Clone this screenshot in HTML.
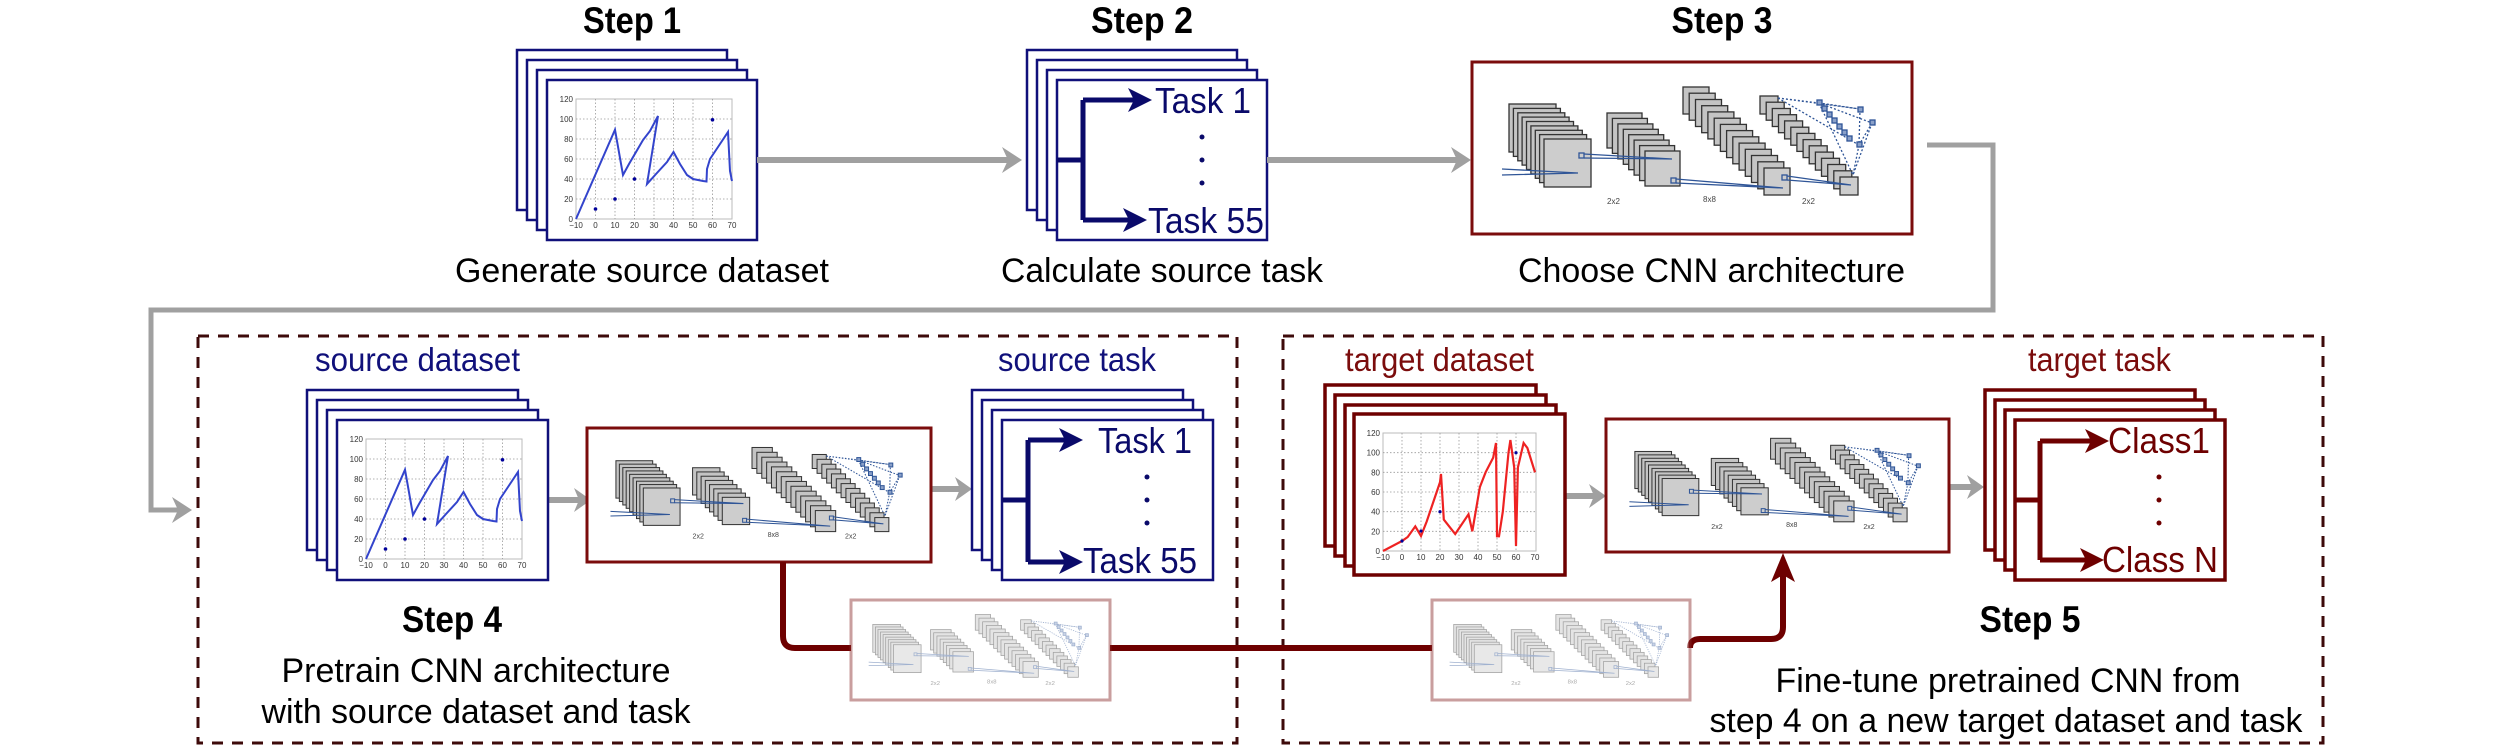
<!DOCTYPE html>
<html><head><meta charset="utf-8"><style>
html,body{margin:0;padding:0;background:#fff;}
svg{display:block;}
text{font-family:"Liberation Sans",Arial,sans-serif;}
</style></head><body>
<svg width="2495" height="748" viewBox="0 0 2495 748" xmlns="http://www.w3.org/2000/svg">
<defs>
<g id="cnn">
 <g fill="#c4c4c4" stroke="#333" stroke-width="1.3">
  <rect x="37" y="42" width="47" height="48"/><rect x="41.4" y="46.4" width="47" height="48"/><rect x="45.8" y="50.8" width="47" height="48"/><rect x="50.1" y="55.1" width="47" height="48"/><rect x="54.5" y="59.5" width="47" height="48"/><rect x="58.9" y="63.9" width="47" height="48"/><rect x="63.3" y="68.3" width="47" height="48"/><rect x="67.6" y="72.6" width="47" height="48"/><rect x="72" y="77" width="47" height="48" fill="#cdcdcd"/>
  <rect x="135" y="51" width="35" height="35"/><rect x="140.4" y="56.4" width="35" height="35"/><rect x="145.9" y="61.9" width="35" height="35"/><rect x="151.3" y="67.3" width="35" height="35"/><rect x="156.7" y="72.7" width="35" height="35"/><rect x="162.1" y="78.1" width="35" height="35"/><rect x="167.6" y="83.6" width="35" height="35"/><rect x="173" y="89" width="35" height="35" fill="#cdcdcd"/>
  <rect x="211" y="25" width="26" height="27"/><rect x="217.2" y="31.2" width="26" height="27"/><rect x="223.5" y="37.5" width="26" height="27"/><rect x="229.7" y="43.7" width="26" height="27"/><rect x="235.9" y="49.9" width="26" height="27"/><rect x="242.2" y="56.2" width="26" height="27"/><rect x="248.4" y="62.4" width="26" height="27"/><rect x="254.6" y="68.6" width="26" height="27"/><rect x="260.8" y="74.8" width="26" height="27"/><rect x="267.1" y="81.1" width="26" height="27"/><rect x="273.3" y="87.3" width="26" height="27"/><rect x="279.5" y="93.5" width="26" height="27"/><rect x="285.8" y="99.8" width="26" height="27"/><rect x="292" y="106" width="26" height="27" fill="#cdcdcd"/>
  <rect x="288" y="34" width="18" height="18"/><rect x="294.2" y="40.2" width="18" height="18"/><rect x="300.3" y="46.5" width="18" height="18"/><rect x="306.5" y="52.7" width="18" height="18"/><rect x="312.6" y="58.9" width="18" height="18"/><rect x="318.8" y="65.2" width="18" height="18"/><rect x="324.9" y="71.4" width="18" height="18"/><rect x="331.1" y="77.6" width="18" height="18"/><rect x="337.2" y="83.8" width="18" height="18"/><rect x="343.4" y="90.1" width="18" height="18"/><rect x="349.5" y="96.3" width="18" height="18"/><rect x="355.7" y="102.5" width="18" height="18"/><rect x="361.8" y="108.8" width="18" height="18"/><rect x="368" y="115" width="18" height="18" fill="#cdcdcd"/>
 </g>
 <g stroke="#2f5597" stroke-width="1.3" fill="none">
  <path d="M30,107 L106,111 M30,113 L106,111"/>
  <rect x="107" y="91" width="5" height="5"/>
  <path d="M112,92 L200,97 M112,96 L200,97"/>
  <rect x="199" y="116" width="5" height="5"/>
  <path d="M204,117 L311,126 M204,121 L311,126"/>
  <rect x="310" y="113" width="5" height="5"/>
  <path d="M315,114 L379,123 M315,118 L379,123"/>
  <g stroke-dasharray="2 2">
   <path d="M306,36 L347,41 M306,36 L388,47 M306,36 L387,83 M347,41 L400,61 M347,41 L388,47 M388,47 L387,83 M400,61 L387,83 M387,83 L381,113 M400,61 L381,113 M347,41 L381,113"/>
  </g>
  <g fill="#8aa0c8">
   <rect x="345" y="38" width="5" height="5"/><rect x="350" y="44" width="5" height="5"/><rect x="355" y="50" width="5" height="5"/><rect x="360" y="56" width="5" height="5"/><rect x="365" y="62" width="5" height="5"/><rect x="370" y="68" width="5" height="5"/><rect x="375" y="74" width="5" height="5"/><rect x="385" y="80" width="5" height="5"/><rect x="386" y="45" width="5" height="5"/><rect x="398" y="58" width="5" height="5"/>
  </g>
 </g>
</g>
<g id="bchart">
 <rect x="29" y="19" width="156" height="120" fill="none" stroke="#bbb" stroke-width="1"/>
 <g stroke="#999" stroke-width="0.8" stroke-dasharray="1.5 2">
  <path d="M48.5,19V139M68,19V139M87.5,19V139M107,19V139M126.5,19V139M146,19V139M165.5,19V139"/>
  <path d="M29,39H185M29,59H185M29,79H185M29,99H185M29,119H185"/>
 </g>
 <polyline fill="none" stroke="#3344cc" stroke-width="2" points="29,139 68,49.7 76,95 82,84 96,60 103,51 111,36 100,104 109,94 120,82 126.5,72 133,84 140,95 146,99 156,101 159.5,101.5 160,89 163,79 173,64 181,52 183,91 185,101"/>
 <g fill="#000099"><circle cx="48.5" cy="129" r="1.8"/><circle cx="68" cy="119" r="1.8"/><circle cx="87.5" cy="99" r="1.8"/><circle cx="165.5" cy="39.8" r="1.8"/></g>
</g>
<g id="rchart">
 <rect x="29" y="19" width="153" height="118" fill="none" stroke="#bbb" stroke-width="1"/>
 <g stroke="#999" stroke-width="0.8" stroke-dasharray="1.5 2">
  <path d="M48,19V137M67,19V137M86,19V137M105,19V137M124,19V137M143,19V137M162,19V137"/>
  <path d="M29,38.7H182M29,58.3H182M29,78H182M29,97.7H182M29,117.3H182"/>
 </g>
 <polyline fill="none" stroke="#ee2222" stroke-width="2.2" points="29,137 48,127 53.7,123 61.3,112.4 67,122 72.7,107.5 86,68.2 87,60 89.8,105.6 101.2,120 114.5,100.3 118.3,117.3 125.9,73 131.6,58.3 139.2,43.6 142,29 143,122.3 145,122.3 148.8,97.7 154.5,38.7 156.4,26 160.2,53.4 162,132 163.9,53.4 169.6,29 173.4,34 181,58.3"/>
 <g fill="#000099"><circle cx="48" cy="127" r="1.6"/><circle cx="67" cy="117" r="1.6"/><circle cx="86" cy="97.7" r="1.6"/><circle cx="162" cy="38.7" r="1.6"/></g>
</g>
</defs>

<g font-weight="bold" font-size="37" text-anchor="middle" fill="#000">
 <text x="632" y="33" textLength="98" lengthAdjust="spacingAndGlyphs">Step 1</text>
 <text x="1142" y="33" textLength="102" lengthAdjust="spacingAndGlyphs">Step 2</text>
 <text x="1722" y="33" textLength="101" lengthAdjust="spacingAndGlyphs">Step 3</text>
 <text x="452" y="632" textLength="100" lengthAdjust="spacingAndGlyphs">Step 4</text>
 <text x="2030" y="632" textLength="101" lengthAdjust="spacingAndGlyphs">Step 5</text>
</g>

<g fill="#fff" stroke="#10107a" stroke-width="2.5">
 <rect x="517" y="50" width="210" height="160"/><rect x="527" y="60" width="210" height="160"/><rect x="537" y="70" width="210" height="160"/><rect x="547" y="80" width="210" height="160"/>
</g>
<g transform="translate(547,80)">
 <use href="#bchart"/>
 <g font-size="8" fill="#333" text-anchor="end">
  <text x="26" y="22">120</text><text x="26" y="42">100</text><text x="26" y="62">80</text><text x="26" y="82">60</text><text x="26" y="102">40</text><text x="26" y="122">20</text><text x="26" y="142">0</text>
 </g>
 <g font-size="8" fill="#333" text-anchor="middle">
  <text x="29" y="148">−10</text><text x="48.5" y="148">0</text><text x="68" y="148">10</text><text x="87.5" y="148">20</text><text x="107" y="148">30</text><text x="126.5" y="148">40</text><text x="146" y="148">50</text><text x="165.5" y="148">60</text><text x="185" y="148">70</text>
 </g>
</g>

<g fill="#fff" stroke="#10107a" stroke-width="2.5">
 <rect x="1027" y="50" width="210" height="160"/><rect x="1037" y="60" width="210" height="160"/><rect x="1047" y="70" width="210" height="160"/><rect x="1057" y="80" width="210" height="160"/>
</g>
<g stroke="#0a0a6a" stroke-width="5" fill="none">
 <path d="M1057,160H1083M1083,100V220M1083,100H1135M1083,220H1130"/>
</g>
<g fill="#0a0a6a">
 <polygon points="1152,100 1128,88 1134,100 1128,112"/>
 <polygon points="1147,220 1123,208 1129,220 1123,232"/>
 <circle cx="1202" cy="137" r="2.5"/><circle cx="1202" cy="160" r="2.5"/><circle cx="1202" cy="183" r="2.5"/>
</g>
<g font-size="36" fill="#0a0a6a">
 <text x="1155" y="113" textLength="96" lengthAdjust="spacingAndGlyphs">Task 1</text>
 <text x="1148" y="233" textLength="116" lengthAdjust="spacingAndGlyphs">Task 55</text>
</g>

<rect x="1472" y="62" width="440" height="172" fill="#fff" stroke="#7b0c0c" stroke-width="3"/>
<g transform="translate(1472,62)">
 <use href="#cnn"/>
 <g font-size="8" fill="#444"><text x="135" y="142">2x2</text><text x="231" y="140">8x8</text><text x="330" y="142">2x2</text></g>
</g>

<g font-size="34" fill="#000">
 <text x="455" y="282" textLength="374" lengthAdjust="spacingAndGlyphs">Generate source dataset</text>
 <text x="1001" y="282" textLength="322" lengthAdjust="spacingAndGlyphs">Calculate source task</text>
 <text x="1518" y="282" textLength="387" lengthAdjust="spacingAndGlyphs">Choose CNN architecture</text>
</g>

<g stroke="#a0a0a0" stroke-width="6" fill="none">
 <path d="M757,160H1010"/>
 <path d="M1267,160H1460"/>
 <path d="M1927,145H1993V310H151V510H180" stroke-width="5"/>
 <path d="M548,500H580"/>
 <path d="M931,489H961"/>
 <path d="M1565,496H1595"/>
 <path d="M1949,487H1973"/>
</g>
<g fill="#a0a0a0">
 <polygon points="1022,160 1002,147 1008,160 1002,173"/>
 <polygon points="1471,160 1451,147 1457,160 1451,173"/>
 <polygon points="192,510 172,497 178,510 172,523"/>
 <polygon points="591,500 574,488 579,500 574,512"/>
 <polygon points="972,489 955,477 960,489 955,501"/>
 <polygon points="1606,496 1589,484 1594,496 1589,508"/>
 <polygon points="1984,487 1967,475 1972,487 1967,499"/>
</g>

<g fill="none" stroke="#3d0a0a" stroke-width="3" stroke-dasharray="11 9">
 <rect x="198" y="336" width="1039" height="407"/>
 <rect x="1283" y="336" width="1040" height="407"/>
</g>

<g font-size="33">
 <text x="315" y="371" fill="#10107a" textLength="205" lengthAdjust="spacingAndGlyphs">source dataset</text>
 <text x="998" y="371" fill="#10107a" textLength="158" lengthAdjust="spacingAndGlyphs">source task</text>
 <text x="1345" y="371" fill="#7b0c0c" textLength="189" lengthAdjust="spacingAndGlyphs">target dataset</text>
 <text x="2028" y="371" fill="#7b0c0c" textLength="143" lengthAdjust="spacingAndGlyphs">target task</text>
</g>

<g fill="#fff" stroke="#10107a" stroke-width="2.5">
 <rect x="307" y="390" width="211" height="160"/><rect x="317" y="400" width="211" height="160"/><rect x="327" y="410" width="211" height="160"/><rect x="337" y="420" width="211" height="160"/>
</g>
<g transform="translate(337,420)">
 <use href="#bchart"/>
 <g font-size="8" fill="#333" text-anchor="end">
  <text x="26" y="22">120</text><text x="26" y="42">100</text><text x="26" y="62">80</text><text x="26" y="82">60</text><text x="26" y="102">40</text><text x="26" y="122">20</text><text x="26" y="142">0</text>
 </g>
 <g font-size="8" fill="#333" text-anchor="middle">
  <text x="29" y="148">−10</text><text x="48.5" y="148">0</text><text x="68" y="148">10</text><text x="87.5" y="148">20</text><text x="107" y="148">30</text><text x="126.5" y="148">40</text><text x="146" y="148">50</text><text x="165.5" y="148">60</text><text x="185" y="148">70</text>
 </g>
</g>

<rect x="587" y="428" width="344" height="134" fill="#fff" stroke="#7b0c0c" stroke-width="3"/>
<g transform="translate(587,428) scale(0.782,0.779)">
 <use href="#cnn"/>
 <g font-size="9" fill="#444"><text x="135" y="142">2x2</text><text x="231" y="140">8x8</text><text x="330" y="142">2x2</text></g>
</g>

<g fill="#fff" stroke="#10107a" stroke-width="2.5">
 <rect x="972" y="390" width="211" height="160"/><rect x="982" y="400" width="211" height="160"/><rect x="992" y="410" width="211" height="160"/><rect x="1002" y="420" width="211" height="160"/>
</g>
<g stroke="#0a0a6a" stroke-width="5" fill="none">
 <path d="M1002,500H1028M1028,440V562M1028,440H1066M1028,562H1066"/>
</g>
<g fill="#0a0a6a">
 <polygon points="1083,440 1059,428 1065,440 1059,452"/>
 <polygon points="1083,562 1059,550 1065,562 1059,574"/>
 <circle cx="1147" cy="477" r="2.5"/><circle cx="1147" cy="500" r="2.5"/><circle cx="1147" cy="523" r="2.5"/>
</g>
<g font-size="36" fill="#0a0a6a">
 <text x="1098" y="453" textLength="94" lengthAdjust="spacingAndGlyphs">Task 1</text>
 <text x="1083" y="573" textLength="114" lengthAdjust="spacingAndGlyphs">Task 55</text>
</g>

<g font-size="34" fill="#000" text-anchor="middle">
 <text x="476" y="682" textLength="389" lengthAdjust="spacingAndGlyphs">Pretrain CNN architecture</text>
 <text x="476" y="723" textLength="429" lengthAdjust="spacingAndGlyphs">with source dataset and task</text>
 <text x="2008" y="692" textLength="465" lengthAdjust="spacingAndGlyphs">Fine-tune pretrained CNN from</text>
 <text x="2006" y="732" textLength="593" lengthAdjust="spacingAndGlyphs">step 4 on a new target dataset and task</text>
</g>

<g stroke="#6e0000" stroke-width="6" fill="none">
 <path d="M783,562V636Q783,648 795,648H851"/>
 <path d="M1110,648H1432"/>
 <path d="M1690,648Q1690,639 1700,639H1771Q1783,639 1783,627V572"/>
</g>
<polygon points="1783,553 1771,582 1783,575 1795,582" fill="#6e0000"/>

<g opacity="0.45">
 <rect x="851" y="600" width="259" height="100" fill="#fff" stroke="#8a2a2a" stroke-width="3"/>
 <g transform="translate(851,600) scale(0.589,0.581)">
  <use href="#cnn"/>
  <g font-size="10" fill="#444"><text x="135" y="146">2x2</text><text x="231" y="144">8x8</text><text x="330" y="146">2x2</text></g>
 </g>
 <rect x="1432" y="600" width="258" height="100" fill="#fff" stroke="#8a2a2a" stroke-width="3"/>
 <g transform="translate(1432,600) scale(0.587,0.581)">
  <use href="#cnn"/>
  <g font-size="10" fill="#444"><text x="135" y="146">2x2</text><text x="231" y="144">8x8</text><text x="330" y="146">2x2</text></g>
 </g>
</g>

<g fill="#fff" stroke="#6e0000" stroke-width="3.5">
 <rect x="1325" y="385" width="211" height="161"/><rect x="1335" y="395" width="211" height="161"/><rect x="1345" y="405" width="211" height="161"/><rect x="1354" y="414" width="211" height="161"/>
</g>
<g transform="translate(1354,414)">
 <use href="#rchart"/>
 <g font-size="8" fill="#333" text-anchor="end">
  <text x="26" y="22">120</text><text x="26" y="41.7">100</text><text x="26" y="61.3">80</text><text x="26" y="81">60</text><text x="26" y="100.7">40</text><text x="26" y="120.3">20</text><text x="26" y="140">0</text>
 </g>
 <g font-size="8" fill="#333" text-anchor="middle">
  <text x="29" y="146">−10</text><text x="48" y="146">0</text><text x="67" y="146">10</text><text x="86" y="146">20</text><text x="105" y="146">30</text><text x="124" y="146">40</text><text x="143" y="146">50</text><text x="162" y="146">60</text><text x="181" y="146">70</text>
 </g>
</g>

<rect x="1606" y="419" width="343" height="133" fill="#fff" stroke="#7b0c0c" stroke-width="3"/>
<g transform="translate(1606,419) scale(0.78,0.773)">
 <use href="#cnn"/>
 <g font-size="9" fill="#444"><text x="135" y="142">2x2</text><text x="231" y="140">8x8</text><text x="330" y="142">2x2</text></g>
</g>

<g fill="#fff" stroke="#6e0000" stroke-width="3.5">
 <rect x="1985" y="390" width="210" height="160"/><rect x="1995" y="400" width="210" height="160"/><rect x="2005" y="410" width="210" height="160"/><rect x="2015" y="420" width="210" height="160"/>
</g>
<g stroke="#6e0000" stroke-width="5" fill="none">
 <path d="M2015,500H2040M2040,441V560M2040,441H2092M2040,560H2088"/>
</g>
<g fill="#6e0000">
 <polygon points="2109,441 2085,429 2091,441 2085,453"/>
 <polygon points="2104,560 2080,548 2086,560 2080,572"/>
 <circle cx="2159" cy="477" r="2.5"/><circle cx="2159" cy="500" r="2.5"/><circle cx="2159" cy="523" r="2.5"/>
</g>
<g font-size="36" fill="#6e0000">
 <text x="2108" y="453" textLength="102" lengthAdjust="spacingAndGlyphs">Class1</text>
 <text x="2102" y="572" textLength="116" lengthAdjust="spacingAndGlyphs">Class N</text>
</g>
</svg>
</body></html>
